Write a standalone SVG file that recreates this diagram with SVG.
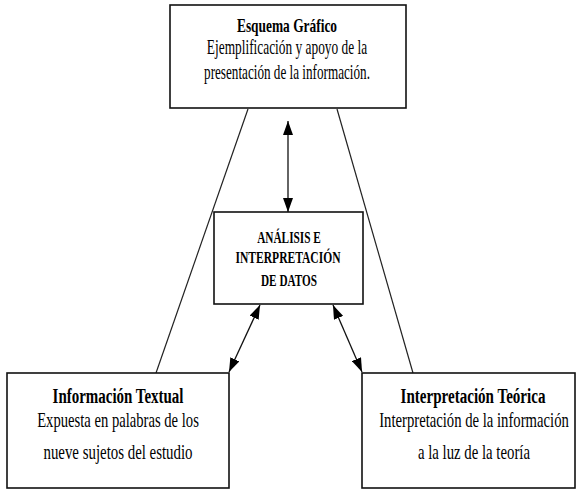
<svg xmlns="http://www.w3.org/2000/svg" width="576" height="491" viewBox="0 0 576 491">
<defs>
<style>
.box{fill:#fff;stroke:#111;stroke-width:1.6}
.ln{stroke:#222;stroke-width:1.2;fill:none}
.ar{stroke:#111;stroke-width:1.3;fill:none;marker-start:url(#ah);marker-end:url(#ah)}
text{font-family:"Liberation Serif","Times New Roman",serif;fill:#000;text-anchor:middle}
.t{font-weight:bold;font-size:18px}
.t2{font-weight:bold;font-size:20px}
.b{font-size:20px}
.c{font-weight:bold;font-size:16px}
</style>
<marker id="ah" viewBox="0 0 14 10" refX="14" refY="5" markerWidth="14" markerHeight="10" markerUnits="userSpaceOnUse" orient="auto-start-reverse">
<path d="M0,0 L14,5 L0,10 Z" fill="#000"/>
</marker>
</defs>
<g id="connectors">
<line class="ln" x1="248" y1="109" x2="156" y2="373"/>
<line class="ln" x1="337" y1="109" x2="413" y2="373"/>
<line class="ar" x1="288" y1="121" x2="288" y2="212"/>
<line class="ar" x1="260" y1="305" x2="229" y2="372"/>
<line class="ar" x1="333" y1="305" x2="362" y2="372"/>
</g>
<g id="esquema">
<rect class="box" x="170" y="5" width="236" height="103"/>
<text class="t" transform="translate(287,32) scale(0.7,1)" textLength="143" lengthAdjust="spacingAndGlyphs">Esquema Gráfico</text>
<text class="b" transform="translate(287,54) scale(0.7,1)" textLength="229" lengthAdjust="spacingAndGlyphs">Ejemplificación y apoyo de la</text>
<text class="b" transform="translate(287,79) scale(0.7,1)" textLength="237" lengthAdjust="spacingAndGlyphs">presentación de la información.</text>
</g>
<g id="analisis">
<rect class="box" x="214" y="212" width="149" height="92"/>
<text class="c" transform="translate(289,243) scale(0.7,1)" textLength="91" lengthAdjust="spacingAndGlyphs">ANÁLISIS E</text>
<text class="c" transform="translate(288,263) scale(0.7,1)" textLength="150" lengthAdjust="spacingAndGlyphs">INTERPRETACIÓN</text>
<text class="c" transform="translate(289,286) scale(0.7,1)" textLength="80" lengthAdjust="spacingAndGlyphs">DE DATOS</text>
</g>
<g id="textual">
<rect class="box" x="7" y="373" width="222" height="115"/>
<text class="t2" transform="translate(118,403) scale(0.7,1)" textLength="187" lengthAdjust="spacingAndGlyphs">Información Textual</text>
<text class="b" transform="translate(118,427) scale(0.7,1)" textLength="231" lengthAdjust="spacingAndGlyphs">Expuesta en palabras de los</text>
<text class="b" transform="translate(118,459) scale(0.7,1)" textLength="213" lengthAdjust="spacingAndGlyphs">nueve sujetos del estudio</text>
</g>
<g id="teorica">
<rect class="box" x="362" y="373" width="213" height="115"/>
<text class="t2" transform="translate(473,403) scale(0.7,1)" textLength="207" lengthAdjust="spacingAndGlyphs">Interpretación Teórica</text>
<text class="b" transform="translate(474,427) scale(0.7,1)" textLength="271" lengthAdjust="spacingAndGlyphs">Interpretación de la información</text>
<text class="b" transform="translate(474,459) scale(0.7,1)" textLength="160" lengthAdjust="spacingAndGlyphs">a la luz de la teoría</text>
</g>
</svg>
